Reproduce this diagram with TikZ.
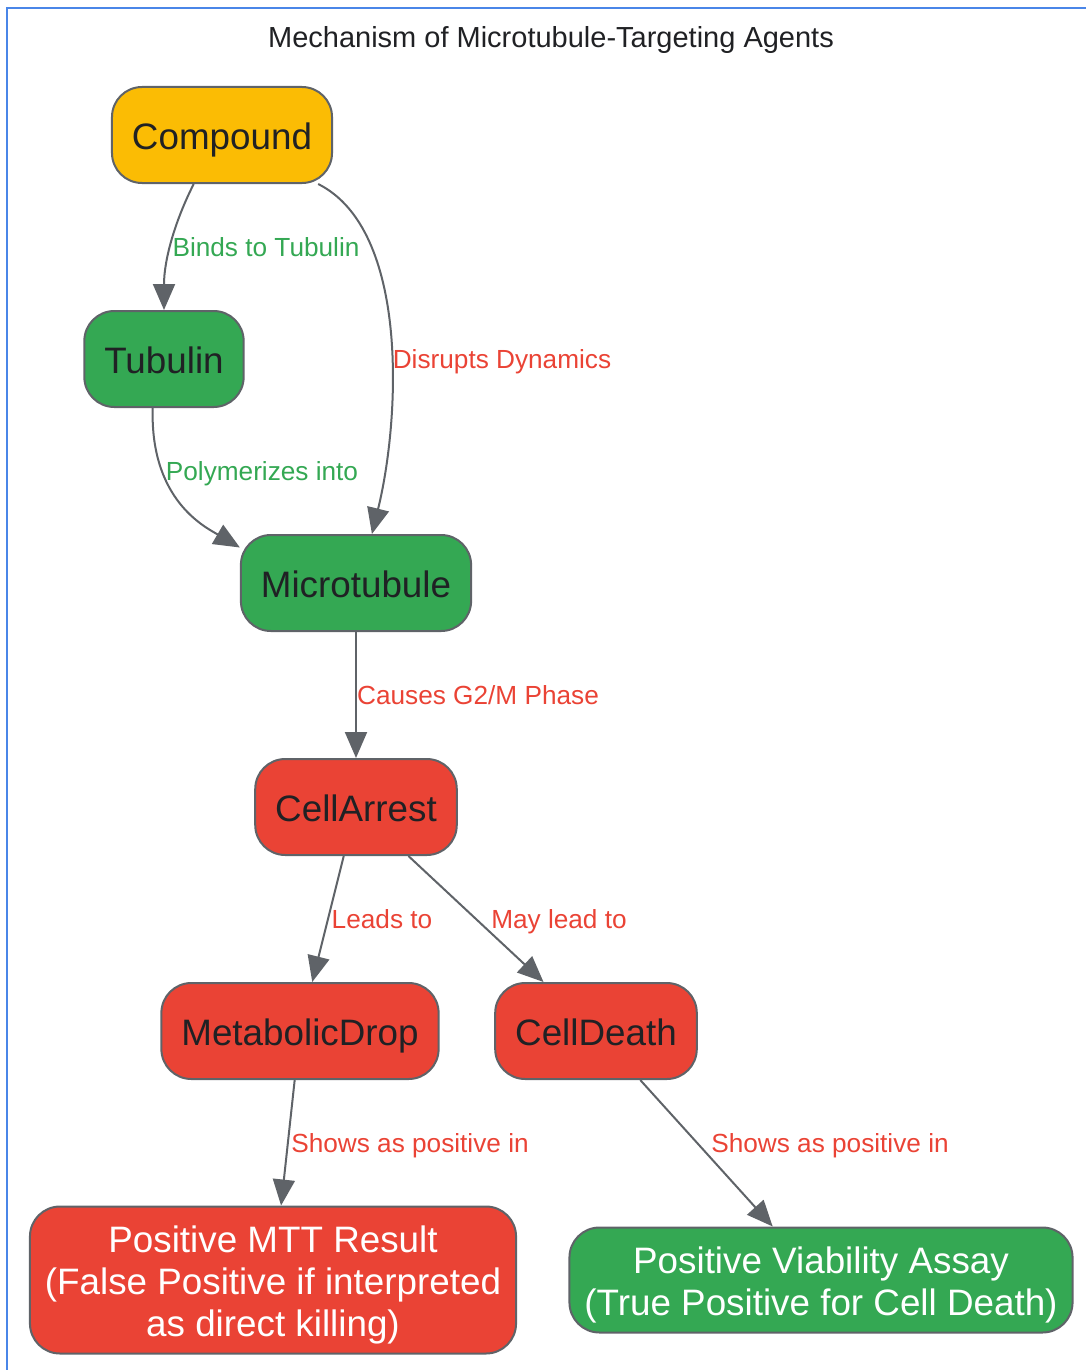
\documentclass[tikz,border=0pt]{standalone}
\usepackage{fontspec}
\setmainfont{Liberation Sans}
\usetikzlibrary{arrows.meta}
\definecolor{cmpyellow}{HTML}{FBBC04}
\definecolor{okgreen}{HTML}{34A853}
\definecolor{badred}{HTML}{EA4335}
\definecolor{edgegray}{HTML}{5F6368}
\definecolor{inkdark}{HTML}{202124}
\definecolor{frameblue}{HTML}{4A86E8}
\tikzset{
  box/.style={draw=edgegray,line width=1pt,rounded corners=15pt,minimum height=48pt,
    inner xsep=10pt,inner ysep=7pt,text height=16pt,text depth=1.5pt,
    font=\fontsize{18.4}{21}\selectfont,text=inkdark,align=center},
  widebox/.style={box,inner xsep=7.5pt,text=white},
  conn/.style={draw=edgegray,line width=1pt,-{Triangle[length=13pt,width=11pt]}},
  lbl/.style={font=\fontsize{13.1}{15}\selectfont,inner sep=0pt,text height=9.6pt,text depth=0pt},
}
\begin{document}
\begin{tikzpicture}[x=0.5pt,y=0.5pt]
\useasboundingbox(0,0)rectangle(1086,-1370);
\draw[frameblue,line width=1.2pt](7,-1370)--(7,-8)--(1086,-8);
\node[font=\fontsize{14.5}{17}\selectfont,text=inkdark,inner sep=0pt,text height=10.6pt,text depth=0pt](ttl)at(551,-37){Mechanism of Microtubule-Targeting Agents};
% nodes
\node[box,fill=cmpyellow](cmp)at(222,-135){Compound};
\node[box,fill=okgreen](tub)at(164,-359){Tubulin};
\node[box,fill=okgreen](mic)at(356,-583){Microtubule};
\node[box,fill=badred](arr)at(356,-807){CellArrest};
\node[box,fill=badred](met)at(300,-1031){MetabolicDrop};
\node[box,fill=badred](dth)at(596,-1031){CellDeath};
\node[widebox,fill=badred,text height=58pt](mtt)at(273,-1280){Positive MTT Result\\(False Positive if interpreted\\as direct killing)};
\node[widebox,fill=okgreen,text height=37pt](via)at(821,-1280){Positive Viability Assay\\(True Positive for Cell Death)};
% connectors
\draw[conn](cmp.-120)..controls(174,-223)and(164,-261)..(tub.north);
\draw[conn](cmp.-27)..controls(410,-230)and(400,-420)..(mic.72);
\draw[conn](tub.-103)..controls(150,-500)and(205,-527)..(mic.163);
\draw[conn](mic)--(arr);
\draw[conn](arr)--(met);
\draw[conn](arr)--(dth);
\draw[conn](met)--(mtt);
\draw[conn](dth)--(via);
% labels
\node[lbl,text=okgreen](l1)at(266,-247){Binds to Tubulin};
\node[lbl,text=badred](l2)at(502,-359){Disrupts Dynamics};
\node[lbl,text=okgreen](l3)at(262,-471){Polymerizes into};
\node[lbl,text=badred](l4)at(478,-695){Causes G2/M Phase};
\node[lbl,text=badred](l5)at(382,-919){Leads to};
\node[lbl,text=badred](l6)at(559,-919){May lead to};
\node[lbl,text=badred](l7)at(410,-1143){Shows as positive in};
\node[lbl,text=badred](l8)at(830,-1143){Shows as positive in};
\end{tikzpicture}
\end{document}
